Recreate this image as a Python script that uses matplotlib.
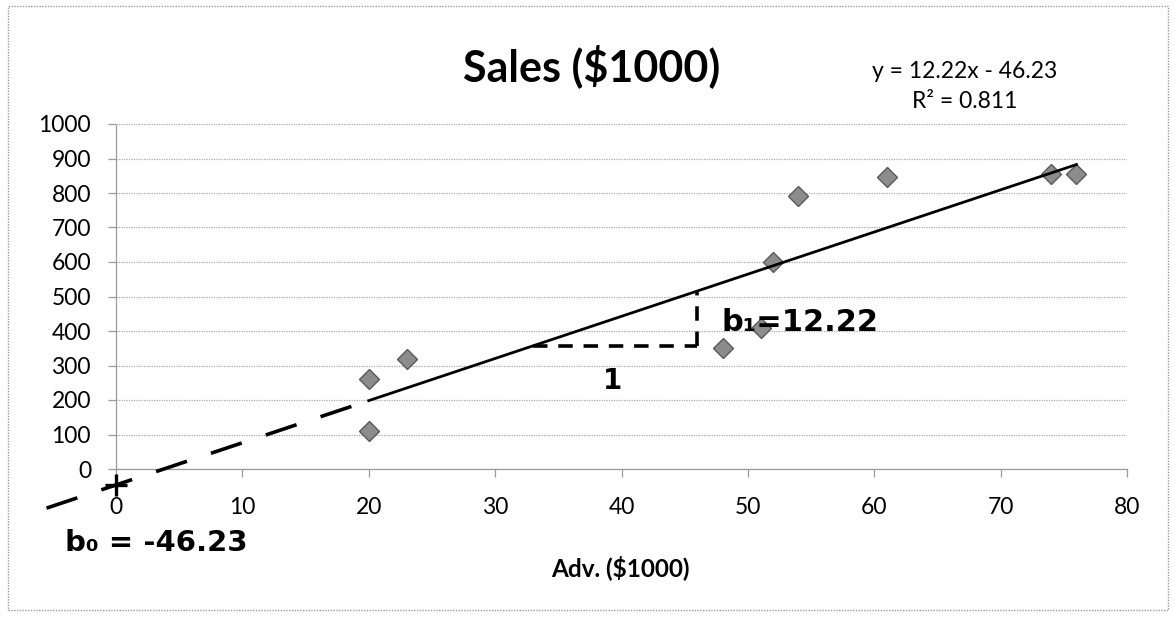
import numpy as np
import matplotlib.pyplot as plt
from matplotlib.patches import Rectangle

# advertising spend vs. sales, both in $1000
adv = [20, 20, 23, 48, 51, 52, 54, 61, 74, 76]
sales = [110, 260, 318, 350, 409, 600, 790, 846, 855, 855]

# fitted trendline as reported on the chart
b1 = 12.22
b0 = -46.23
r2 = 0.811

x_ticks = [0, 10, 20, 30, 40, 50, 60, 70, 80]
y_ticks = [0, 100, 200, 300, 400, 500, 600, 700, 800, 900, 1000]

W, H = 1175, 622
fig = plt.figure(figsize=(W / 100, H / 100), dpi=100)
fig.patch.set_facecolor('white')

# outer chart border
fig.patches.append(Rectangle((8 / W, 1 - 610 / H), 1160 / W, 604 / H,
                             transform=fig.transFigure, fill=False,
                             edgecolor='#9a9a9a', lw=1, ls=(0, (1, 1))))

ax = fig.add_axes([116 / W, 1 - 469 / H, 1011 / W, 345 / H])
ax.set_xlim(0, 80)
ax.set_ylim(0, 1000)
ax.set_xticks(x_ticks)
ax.set_yticks(y_ticks)

for s in ['top', 'right']:
    ax.spines[s].set_visible(False)
for s in ['left', 'bottom']:
    ax.spines[s].set_color('#9a9a9a')
    ax.spines[s].set_linewidth(0.9)
    ax.spines[s].set_linestyle((0, (1, 1)))

ax.grid(axis='y', color='#a8a8a8', lw=0.9, ls=(0, (1, 1)))
ax.tick_params(axis='both', colors='#9a9a9a', length=6, width=0.9,
               labelcolor='black', labelsize=16.5)
ax.tick_params(axis='x', pad=14)
ax.tick_params(axis='y', pad=12)
for lab in ax.get_xticklabels() + ax.get_yticklabels():
    lab.set_fontfamily('Lato')

# data points
ax.plot(adv, sales, ls='none', marker='D', ms=10.5, mfc='#8c8c8c',
        mec='#5a5a5a', mew=1, zorder=3)

# trendline over the data range
xl = np.array([min(adv), max(adv)])
ax.plot(xl, b1 * xl + b0, color='black', lw=2, zorder=4)

# hand-drawn extension back to the intercept
xe = np.array([-5.5, min(adv)])
ax.plot(xe, b1 * xe + b0, color='black', lw=2.6, ls=(0, (9, 7)),
        clip_on=False, zorder=4)
ax.plot([0], [b0], marker='+', ms=16, mew=2.4, color='black',
        clip_on=False, zorder=5)

# slope triangle: run (drawn over 13 units) and the rise
xa, xb = 33, 46
ax.plot([xa, xb], [b1 * xa + b0, b1 * xa + b0], color='black', lw=2.6,
        ls=(0, (4, 3)), zorder=4)
ax.plot([xb, xb], [b1 * xa + b0, b1 * xb + b0], color='black', lw=2.6,
        ls=(0, (4, 3)), zorder=4)

hand = dict(family='DejaVu Sans', fontweight='bold', color='black')
ax.text(39.3, 255, '1', fontsize=20, ha='center', va='center', **hand)
ax.text(47.9, 425, f'b\u2081={b1:.2f}', fontsize=22, ha='left', va='center',
        **hand)
ax.text(-4.0, -215, f'b\u2080 = {b0:.2f}', fontsize=21,
        ha='left', va='center', clip_on=False, **hand)

# titles and trendline label
fig.text(592 / W, 1 - 66 / H, 'Sales ($1000)', fontsize=31,
         fontweight='bold', family='Lato', ha='center', va='center')
fig.text(620 / W, 1 - 568 / H, 'Adv. ($1000)', fontsize=17.5,
         fontweight='bold', family='Lato', ha='center', va='center')
fig.text(965 / W, 1 - 71 / H, f'y = {b1:.2f}x - {abs(b0):.2f}',
         fontsize=16.5, family='Lato', ha='center', va='center')
fig.text(965 / W, 1 - 102 / H, f'R\u00b2 = {r2:.3f}', fontsize=16.5,
         family='Lato', ha='center', va='center')

fig.savefig('out.png', dpi=100)
